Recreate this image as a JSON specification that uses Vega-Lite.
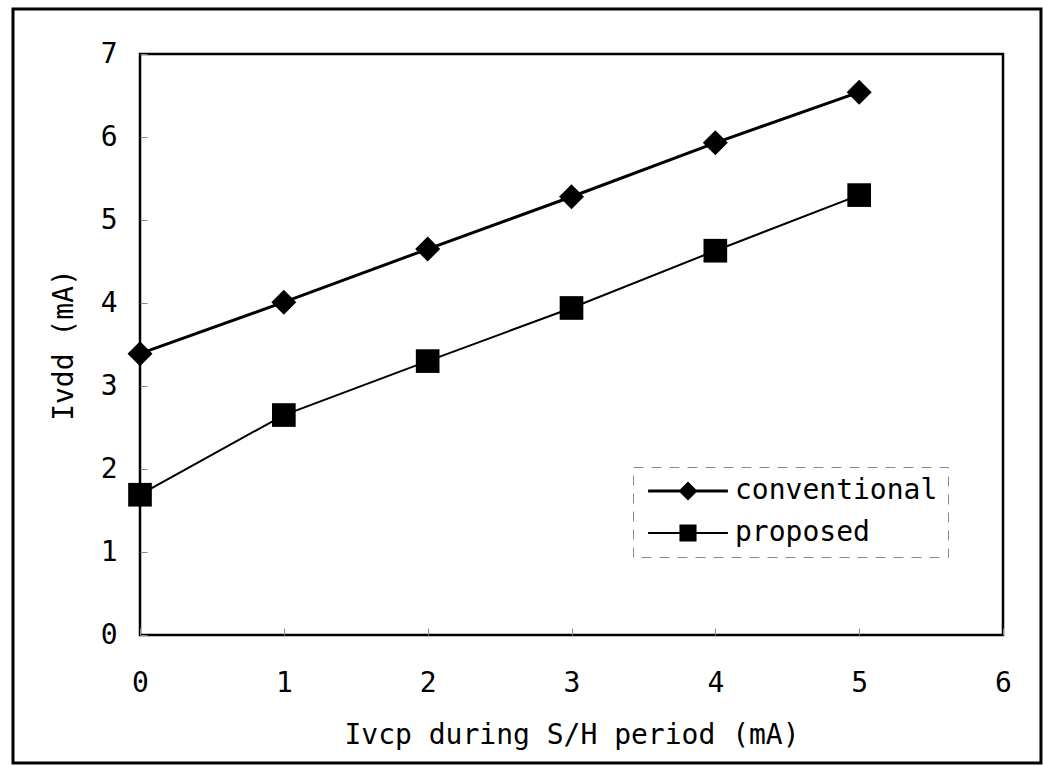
{
  "$schema": "https://vega.github.io/schema/vega-lite/v6.json",
  "width": 863,
  "height": 581,
  "autosize": {"type": "none"},
  "padding": {"left": 140, "top": 54, "right": 40, "bottom": 131},
  "background": "white",
  "data": {
    "values": [
      {"series": "conventional", "x": 0, "y": 3.39},
      {"series": "conventional", "x": 1, "y": 4.01},
      {"series": "conventional", "x": 2, "y": 4.65},
      {"series": "conventional", "x": 3, "y": 5.28},
      {"series": "conventional", "x": 4, "y": 5.93},
      {"series": "conventional", "x": 5, "y": 6.54},
      {"series": "proposed", "x": 0, "y": 1.69},
      {"series": "proposed", "x": 1, "y": 2.65},
      {"series": "proposed", "x": 2, "y": 3.3},
      {"series": "proposed", "x": 3, "y": 3.94},
      {"series": "proposed", "x": 4, "y": 4.63},
      {"series": "proposed", "x": 5, "y": 5.3}
    ]
  },
  "layer": [
    {
      "data": {"values": [{}]},
      "mark": {"type": "rect", "filled": false, "stroke": "black", "strokeWidth": 3, "clip": false},
      "encoding": {
        "x": {"datum": -0.883, "type": "quantitative"},
        "x2": {"datum": 6.264},
        "y": {"datum": 7.542, "type": "quantitative"},
        "y2": {"datum": -1.542}
      }
    },
    {
      "mark": {"type": "line", "color": "black"},
      "encoding": {
        "x": {
          "field": "x", "type": "quantitative",
          "scale": {"domain": [0, 6], "nice": false, "zero": false},
          "axis": {"values": [0, 1, 2, 3, 4, 5, 6], "format": "d", "title": "Ivcp during S/H period (mA)", "labelPadding": 41, "titlePadding": 24, "labelFlush": false, "labelOverlap": false}
        },
        "y": {
          "field": "y", "type": "quantitative",
          "scale": {"domain": [0, 7], "nice": false, "zero": false},
          "axis": {"values": [0, 1, 2, 3, 4, 5, 6, 7], "format": "d", "title": "Ivdd (mA)", "labelPadding": 30, "titlePadding": 22, "labelFlush": false, "labelOverlap": false}
        },
        "detail": {"field": "series", "type": "nominal"},
        "strokeWidth": {"field": "series", "type": "nominal", "scale": {"domain": ["conventional", "proposed"], "range": [3, 2]}, "legend": null}
      }
    },
    {
      "mark": {"type": "point", "filled": true, "color": "black", "opacity": 1},
      "encoding": {
        "x": {"field": "x", "type": "quantitative"},
        "y": {"field": "y", "type": "quantitative"},
        "shape": {"field": "series", "type": "nominal", "scale": {"domain": ["conventional", "proposed"], "range": ["diamond", "square"]}, "legend": null},
        "size": {"field": "series", "type": "nominal", "scale": {"domain": ["conventional", "proposed"], "range": [625, 560]}, "legend": null}
      }
    },
    {
      "transform": [{"filter": "datum.x < -10"}],
      "mark": {"type": "point", "filled": true, "fill": "black", "opacity": 1},
      "encoding": {
        "x": {"field": "x", "type": "quantitative"},
        "y": {"field": "y", "type": "quantitative"},
        "shape": {
          "field": "series", "type": "nominal",
          "scale": {"domain": ["conventional", "proposed"], "range": ["M-4.2,-0.15H4.2V0.15H-4.2ZM0,-1L1,0L0,1L-1,0Z", "M-4.2,-0.1H4.2V0.1H-4.2ZM-0.9,-0.9H0.9V0.9H-0.9Z"]},
          "legend": {
            "title": null,
            "encode": {
              "symbols": {"update": {"fill": {"value": "black"}}},
              "legend": {"update": {"strokeDash": {"value": [10, 8]}}}
            }
          }
        }
      }
    }
  ],
  "resolve": {"scale": {"shape": "independent", "size": "independent", "strokeWidth": "independent"}},
  "config": {
    "view": {"stroke": "black", "strokeWidth": 2.5},
    "axis": {
      "labelFont": "DejaVu Sans Mono", "labelFontSize": 28, "labelColor": "black",
      "titleFont": "DejaVu Sans Mono", "titleFontSize": 28, "titleFontWeight": "normal", "titleColor": "black",
      "domain": false, "grid": false, "tickColor": "#888", "tickSize": -7, "tickWidth": 1
    },
    "legend": {
      "orient": "none", "legendX": 493, "legendY": 413,
      "labelFont": "DejaVu Sans Mono", "labelFontSize": 28, "labelColor": "black", "labelLimit": 400,
      "symbolSize": 361, "symbolOffset": 31, "labelOffset": 33,
      "padding": 10, "rowPadding": 14,
      "strokeColor": "#888", "strokeDash": [10, 8],
      "symbolFillColor": "black"
    }
  }
}
